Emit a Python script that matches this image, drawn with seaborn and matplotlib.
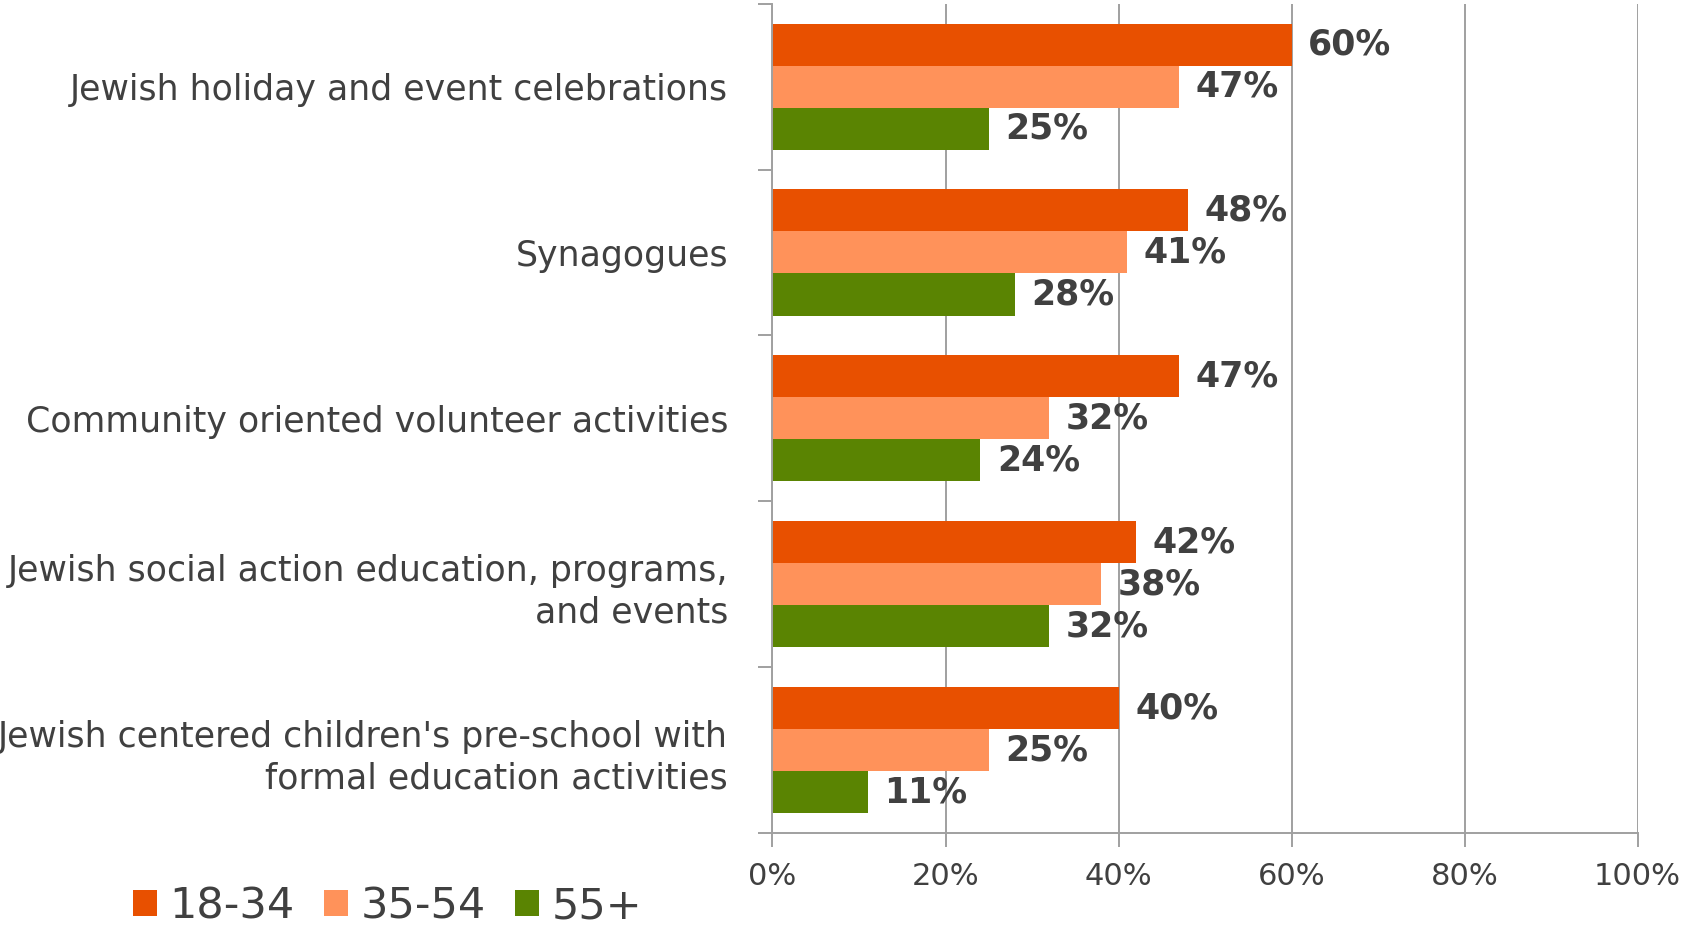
import matplotlib
matplotlib.use("Agg")
import matplotlib.pyplot as plt
import pandas as pd
import seaborn as sns
from matplotlib.ticker import FixedLocator, PercentFormatter

categories = [
    "Jewish holiday and event celebrations",
    "Synagogues",
    "Community oriented volunteer activities",
    "Jewish social action education, programs,\nand events",
    "Jewish centered children's pre-school with\nformal education activities",
]
groups = ["18-34", "35-54", "55+"]
age_18_34 = [60, 48, 47, 42, 40]
age_35_54 = [47, 41, 32, 38, 25]
age_55_up = [25, 28, 24, 32, 11]
colors = ["#E85000", "#FF925A", "#5A8402"]

TEXT = "#404040"
GRID = "#A0A0A0"

df = pd.DataFrame({
    "category": categories * 3,
    "group": [g for g in groups for _ in categories],
    "value": age_18_34 + age_35_54 + age_55_up,
})

sns.set_theme(style="white")
plt.rcParams["font.family"] = ["DejaVu Sans"]

fig = plt.figure(figsize=(16.83, 9.25), dpi=100)
ax = fig.add_axes([0.459, 0.0995, 0.514, 0.8965])

sns.barplot(
    data=df, y="category", x="value", hue="group", orient="h",
    order=categories, hue_order=groups, palette=colors,
    width=0.76, gap=0, linewidth=0, saturation=1, ax=ax,
)

for container in ax.containers:
    ax.bar_label(container, fmt="%d%%", padding=12, fontsize=25,
                 fontweight="bold", color=TEXT)

ax.set_xlim(0, 100)
ax.set_ylim(len(categories) - 0.5, -0.5)
ax.xaxis.set_major_locator(FixedLocator([0, 20, 40, 60, 80, 100]))
ax.xaxis.set_major_formatter(PercentFormatter(decimals=0))
ax.grid(axis="x", color=GRID, linewidth=1.4)
ax.set_axisbelow(True)

ax.yaxis.set_minor_locator(FixedLocator([i - 0.5 for i in range(len(categories) + 1)]))
ax.tick_params(axis="y", which="major", length=0, pad=32, labelsize=25, labelcolor=TEXT)
ax.tick_params(axis="y", which="minor", left=True, length=10, width=1.4, color=GRID)
ax.tick_params(axis="x", which="major", bottom=True, length=10, width=1.4, color=GRID,
               pad=11, labelsize=22, labelcolor=TEXT)
for lab in ax.get_yticklabels():
    lab.set_multialignment("right")
    lab.set_linespacing(1.3)

for side in ["top", "right"]:
    ax.spines[side].set_visible(False)
for side in ["left", "bottom"]:
    ax.spines[side].set_color(GRID)
    ax.spines[side].set_linewidth(1.4)

ax.set_xlabel("")
ax.set_ylabel("")

handles, labels = ax.get_legend_handles_labels()
ax.legend_.remove()
fig.legend(handles, labels, loc="center left", bbox_to_anchor=(0.079, 0.02),
           ncol=3, frameon=False, fontsize=31, labelcolor=TEXT,
           handlelength=0.55, handleheight=0.55, handletextpad=0.3,
           columnspacing=0.68, borderpad=0, borderaxespad=0)

fig.savefig("out.png", dpi=100, facecolor="white")
